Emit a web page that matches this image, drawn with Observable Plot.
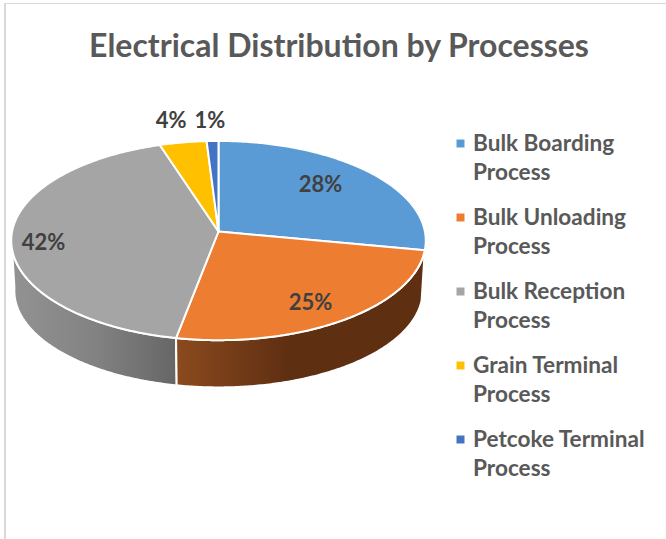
<!DOCTYPE html>
<html>
<head>
<meta charset="utf-8">
<script src="https://cdn.jsdelivr.net/npm/d3@7"></script>
<script src="https://cdn.jsdelivr.net/npm/@observablehq/plot@0.6"></script>
<style>
  html, body { margin: 0; padding: 0; background: #fff; }
  #frame { position: relative; width: 666px; height: 539px; overflow: hidden; font-family: Lato, "Open Sans", sans-serif; }
  #edgeTop { position: absolute; left: 4px; top: 3px; width: 662px; height: 1px; background: #d9d9d9; }
  #edgeLeft { position: absolute; left: 4px; top: 3px; width: 2px; height: 536px; background: #d9d9d9; }
  h1 { position: absolute; left: 0; width: 678px; top: 25px; margin: 0; text-align: center; font-size: 32px; line-height: 40px; font-weight: 700; color: #595959; white-space: nowrap; }
  #chart { position: absolute; left: 0; top: 68px; }
  svg { display: block; }
</style>
</head>
<body>
<div id="frame">
  <div id="edgeTop"></div>
  <div id="edgeLeft"></div>
  <h1 id="title"></h1>
  <div id="chart"></div>
</div>
<script>
// ---- data ----
const title = "Electrical Distribution by Processes";
const categories = ["Bulk Boarding Process", "Bulk Unloading Process", "Bulk Reception Process", "Grain Terminal Process", "Petcoke Terminal Process"];
const legendLine1 = ["Bulk Boarding", "Bulk Unloading", "Bulk Reception", "Grain Terminal", "Petcoke Terminal"];
const legendLine2 = ["Process", "Process", "Process", "Process", "Process"];
const shares = [28, 25, 42, 4, 1];
const colors = ["#5b9bd5", "#ed7d31", "#a5a5a5", "#ffc000", "#4472c4"];

// ---- layout ----
const W = 666, H = 539, TOP = 68;
const cx = 218, cy = 231;          // hub of the pie on the page
const B = 206.4, A = 98.8, K = 0.0909; // tilted-disc perspective
const depth = 50.5, baseScaleX = 0.985, baseScaleY = 0.97;
const labelRadius = [0.72, 0.78, 0.85, 1.12, 1.12];
const labelNudge = [[-8, -3], [-4, 4], [1, 6], [-8, -12], [-2, -10]];
const legendX = 460, legendTextX = 472.5, legendY = 143, legendStep = 74, legendGap = 29.3;
const labelSize = 22, legendSize = 22.6;

// ---- geometry from the shares ----
const total = d3.sum(shares);
const stops = d3.cumsum(shares).map(v => v / total * 2 * Math.PI);
const starts = [0, ...stops.slice(0, -1)];
const project = (r, t) => {
  const den = 1 + K * r * Math.cos(t);
  return [cx + B * r * Math.sin(t) / den, cy - A * r * Math.cos(t) / den];
};
const projectBase = (t) => {
  const [x, y] = project(1, t);
  return [cx + (x - cx) * baseScaleX, cy + depth + (y - cy) * baseScaleY];
};
const arcAngles = (a, b) => {
  const n = Math.max(2, Math.ceil((b - a) / 0.01));
  return d3.range(n + 1).map(i => a + (b - a) * i / n);
};
const faces = categories.flatMap((c, i) => {
  const rim = arcAngles(starts[i], stops[i]).map(t => project(1, t));
  const pts = [[cx, cy], ...rim, [cx, cy]];
  return pts.map(([x, y]) => ({category: c, x, y}));
});
const sidePolygon = (a, b) => {
  const ts = arcAngles(a, b);
  const pts = [...ts.map(t => project(1, t)), ...ts.slice().reverse().map(projectBase)];
  pts.push(pts[0]);
  return pts.map(([x, y]) => ({x, y}));
};
// visible wall runs from the right silhouette to the left silhouette of the disc
const silhouetteRight = Math.acos(-K), silhouetteLeft = 2 * Math.PI - silhouetteRight;
const orangeWall = sidePolygon(starts[1], stops[1]);
const grayWall = sidePolygon(starts[2], Math.min(stops[2], silhouetteLeft + 0.03));

const labels = shares.map((v, i) => {
  const mid = (starts[i] + stops[i]) / 2;
  const [x, y] = project(labelRadius[i], mid);
  return {text: v + "%", x: x + labelNudge[i][0], y: y + labelNudge[i][1]};
});
const legend = categories.map((c, i) => ({
  category: c, line1: legendLine1[i], line2: legendLine2[i], y: legendY + i * legendStep
}));

// ---- gradients for the walls ----
const gradients = () => {
  const defs = d3.create("svg:defs");
  const add = (id, x1, x2, s) => {
    const g = defs.append("linearGradient").attr("id", id).attr("gradientUnits", "userSpaceOnUse")
      .attr("x1", x1).attr("x2", x2).attr("y1", 0).attr("y2", 0);
    s.forEach(([o, c]) => g.append("stop").attr("offset", o).attr("stop-color", c));
  };
  add("wallOrange", 176, 424, [[0, "#8b4a1e"], [0.45, "#5f2f12"], [1, "#5f2f12"]]);
  add("wallGray", 14, 176, [[0, "#929292"], [0.5, "#828282"], [1, "#666666"]]);
  return defs.node();
};

document.getElementById("title").textContent = title;
const wall = (data, fill) => Plot.line(data, {x: "x", y: "y", fill, stroke: "white", strokeWidth: 2, curve: "linear"});
const chart = Plot.plot({
  width: W, height: H - TOP,
  margin: 0,
  style: {background: "transparent", overflow: "visible"},
  x: {domain: [0, W], range: [0, W], axis: null},
  y: {domain: [TOP, H], range: [0, H - TOP], axis: null},
  color: {domain: categories, range: colors},
  marks: [
    gradients,
    wall(grayWall, "url(#wallGray)"),
    wall(orangeWall, "url(#wallOrange)"),
    Plot.line(faces, {x: "x", y: "y", z: "category", fill: "category", stroke: "white", strokeWidth: 2, curve: "linear"}),
    Plot.text(labels, {x: "x", y: "y", text: "text", fontSize: labelSize, fontWeight: 700, fill: "#404040", fontFamily: "Lato"}),
    Plot.dot(legend, {x: legendX, y: "y", symbol: "square", r: 4.5, fill: "category"}),
    Plot.text(legend, {x: legendTextX, y: "y", text: "line1", textAnchor: "start", fontSize: legendSize, fontWeight: 700, fill: "#595959", fontFamily: "Lato"}),
    Plot.text(legend, {x: legendTextX, y: d => d.y + legendGap, text: "line2", textAnchor: "start", fontSize: legendSize, fontWeight: 700, fill: "#595959", fontFamily: "Lato"})
  ]
});
document.getElementById("chart").appendChild(chart);
</script>
</body>
</html>
